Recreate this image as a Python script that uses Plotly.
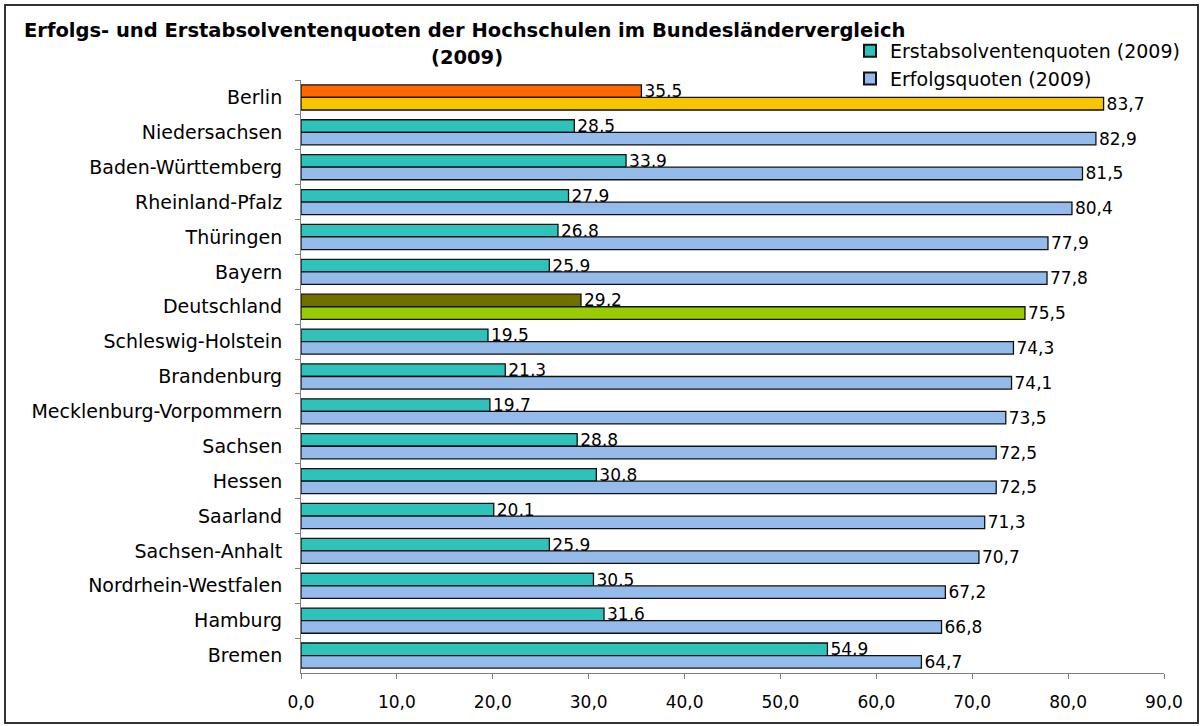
import plotly.graph_objects as go

categories = ["Berlin", "Niedersachsen", "Baden-Württemberg", "Rheinland-Pfalz", "Thüringen",
              "Bayern", "Deutschland", "Schleswig-Holstein", "Brandenburg",
              "Mecklenburg-Vorpommern", "Sachsen", "Hessen", "Saarland", "Sachsen-Anhalt",
              "Nordrhein-Westfalen", "Hamburg", "Bremen"]
erstabsolventen = [35.5, 28.5, 33.9, 27.9, 26.8, 25.9, 29.2, 19.5, 21.3, 19.7, 28.8, 30.8,
                   20.1, 25.9, 30.5, 31.6, 54.9]
erfolgsquoten = [83.7, 82.9, 81.5, 80.4, 77.9, 77.8, 75.5, 74.3, 74.1, 73.5, 72.5, 72.5,
                 71.3, 70.7, 67.2, 66.8, 64.7]
x_ticks = [0, 10, 20, 30, 40, 50, 60, 70, 80, 90]

name_erst = "Erstabsolventenquoten (2009)"
name_erf = "Erfolgsquoten (2009)"

TEAL = "#2EC2BA"
BLUE = "#94BBEA"
highlight = {"Berlin": ("#FF6600", "#F7C600"), "Deutschland": ("#707000", "#99CC00")}
col_erst = [highlight[c][0] if c in highlight else TEAL for c in categories]
col_erf = [highlight[c][1] if c in highlight else BLUE for c in categories]

FONT = "DejaVu Sans"
EDGE = dict(color="#111111", width=1.3)

fig = go.Figure()
fig.add_trace(go.Bar(
    y=categories, x=erstabsolventen, orientation="h", name=name_erst,
    marker=dict(color=col_erst, line=EDGE),
    texttemplate="%{x:.1f}", textposition="outside", cliponaxis=False,
    constraintext="none",
    textfont=dict(family=FONT, size=17, color="#000000"),
    offsetgroup="a", showlegend=False, hoverinfo="x+y"))
fig.add_trace(go.Bar(
    y=categories, x=erfolgsquoten, orientation="h", name=name_erf,
    marker=dict(color=col_erf, line=EDGE),
    texttemplate="%{x:.1f}", textposition="outside", cliponaxis=False,
    constraintext="none",
    textfont=dict(family=FONT, size=17, color="#000000"),
    offsetgroup="b", showlegend=False, hoverinfo="x+y"))
# legend-only entries (solid series colours)
fig.add_trace(go.Bar(y=[categories[0]], x=[None], orientation="h", name=name_erst,
                     marker=dict(color=TEAL, line=EDGE),
                     offsetgroup="a", showlegend=True))
fig.add_trace(go.Bar(y=[categories[0]], x=[None], orientation="h", name=name_erf,
                     marker=dict(color=BLUE, line=EDGE),
                     offsetgroup="b", showlegend=True))

W, H = 1202, 726
L, R, T, B = 301, 38, 80, 53
pw, ph = W - L - R, H - T - B


def px_x(x):
    return (x - L) / pw


def px_y(y):
    return (H - B - y) / ph


fig.update_layout(
    width=W, height=H,
    margin=dict(l=L, r=R, t=T, b=B),
    paper_bgcolor="white", plot_bgcolor="white",
    barmode="group", bargap=0.28, bargroupgap=0.0,
    separators=",.",
    font=dict(family=FONT, size=16, color="#000000"),
    showlegend=True,
    legend=dict(x=px_x(850), y=px_y(32), xanchor="left", yanchor="top",
                font=dict(family=FONT, size=19, color="#000000"),
                bgcolor="rgba(0,0,0,0)", tracegroupgap=0, itemsizing="constant"),
    xaxis=dict(range=[0, 90], tickvals=x_ticks, tickformat=".1f",
               showgrid=False, zeroline=False, showline=True, linecolor="#808080",
               linewidth=1, ticks="outside", ticklen=5, tickcolor="#808080",
               ticklabelstandoff=9,
               tickfont=dict(family=FONT, size=17, color="#000000")),
    yaxis=dict(autorange="reversed", showgrid=False, showline=True, linecolor="#808080",
               linewidth=1, ticks="outside", ticklen=5, tickcolor="#808080",
               tickson="boundaries", ticklabelstandoff=14,
               tickfont=dict(family=FONT, size=19, color="#000000")),
    annotations=[
        dict(text="<b>Erfolgs- und Erstabsolventenquoten der Hochschulen im Bundesländervergleich</b>",
             xref="paper", yref="paper", x=px_x(464), y=px_y(31), xanchor="center",
             yanchor="middle", showarrow=False,
             font=dict(family=FONT, size=19.5, color="#000000")),
        dict(text="<b>(2009)</b>",
             xref="paper", yref="paper", x=px_x(467), y=px_y(57), xanchor="center",
             yanchor="middle", showarrow=False,
             font=dict(family=FONT, size=19.5, color="#000000")),
    ],
    shapes=[dict(type="rect", xref="paper", yref="paper",
                 x0=px_x(5), x1=px_x(1198), y0=px_y(723), y1=px_y(5),
                 line=dict(color="#333333", width=2), fillcolor="rgba(0,0,0,0)", layer="below")],
)

fig.write_html("out.html",
               config={"displayModeBar": False},
               post_script="document.body.style.margin='0';document.body.style.padding='0';")
